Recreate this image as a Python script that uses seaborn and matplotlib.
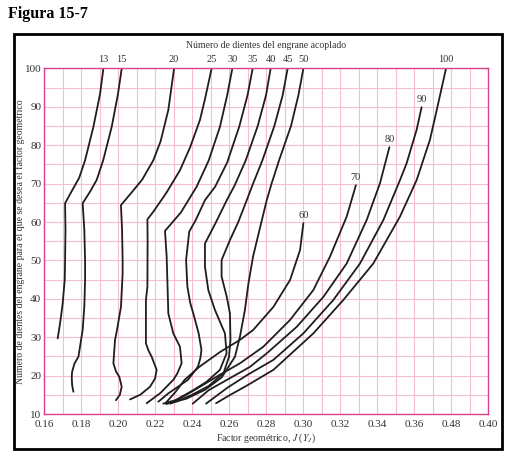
import numpy as np
import pandas as pd
import matplotlib
matplotlib.use('Agg')
import matplotlib.pyplot as plt
from matplotlib.patches import Rectangle
import seaborn as sns

# Mating-gear teeth curves: geometry factor J vs number of teeth
mating_teeth = [13, 15, 20, 25, 30, 35, 40, 45, 50, 60, 70, 80, 90, 100]

j_13 = [0.1921, 0.1903, 0.1867, 0.1822, 0.1790, 0.1755, 0.1714, 0.1716, 0.1714, 0.1712, 0.1701, 0.1688, 0.1674]
n_13 = [100, 93.4, 84.8, 76.1, 71.5, 68.5, 64.9, 58, 50, 45, 38.8, 34, 29.7]

j_15 = [0.2020, 0.2000, 0.1966, 0.1920, 0.1885, 0.1850, 0.1809, 0.1818, 0.1822, 0.1822, 0.1818, 0.1809, 0.1786, 0.1765, 0.1752, 0.1750, 0.1752, 0.1759]
n_15 = [100, 93.4, 84.8, 76.1, 71, 68, 64.9, 57.9, 50, 44.9, 38, 31.9, 24.9, 23.2, 21, 19.7, 17.5, 15.8]

j_20 = [0.2303, 0.2272, 0.2230, 0.2191, 0.2130, 0.2070, 0.2016, 0.2022, 0.2025, 0.2025, 0.2016, 0.1995, 0.1984, 0.1975, 0.1990, 0.2007, 0.2020, 0.2010, 0.1989]
n_20 = [100, 89.2, 81, 76.1, 71, 67.5, 64.4, 57.9, 50, 46.6, 37.9, 32, 29.3, 23.2, 21, 19.7, 17.1, 15, 13.6]

j_25 = [0.2506, 0.2470, 0.2443, 0.2390, 0.2335, 0.2260, 0.2191, 0.2159, 0.2160, 0.2159, 0.2151, 0.2151, 0.2165, 0.2182, 0.2209, 0.2200, 0.2173, 0.2120, 0.2065]
n_25 = [100, 92, 86.6, 79.5, 73.5, 67.5, 62.7, 60.7, 55, 43.2, 39.7, 28.4, 26.5, 24.9, 21.5, 19.2, 17.1, 15, 13.8]

j_30 = [0.2618, 0.2590, 0.2551, 0.2490, 0.2425, 0.2340, 0.2254, 0.2263, 0.2268, 0.2272, 0.2299, 0.2335, 0.2344, 0.2320, 0.2299, 0.2230, 0.2155]
n_30 = [100, 93, 84.8, 76, 69.2, 62.5, 57.7, 51, 43, 36.2, 31, 27.5, 23.2, 20.5, 18.9, 15.5, 12.8]

j_35 = [0.2728, 0.2700, 0.2655, 0.2590, 0.2525, 0.2470, 0.2420, 0.2385, 0.2368, 0.2375, 0.2390, 0.2407, 0.2436, 0.2451, 0.2445, 0.2432, 0.2378, 0.2324, 0.2270, 0.2218]
n_35 = [100, 93, 84.8, 75.5, 69.2, 65.7, 60.5, 57.5, 50.1, 43.2, 39, 36.2, 31, 26.7, 24.5, 22.3, 18.9, 17.1, 15.3, 13.2]

j_40 = [0.2825, 0.2800, 0.2755, 0.2690, 0.2630, 0.2588, 0.2530, 0.2470, 0.2470, 0.2488, 0.2524, 0.2578, 0.2587, 0.2551, 0.2479, 0.2400, 0.2310, 0.2245]
n_40 = [100, 93, 85, 76, 69.5, 65.7, 60, 54.4, 48.4, 42.3, 37.1, 31, 25.8, 21.5, 18.4, 16, 13.6, 12.7]

j_45 = [0.2917, 0.2890, 0.2845, 0.2780, 0.2730, 0.2696, 0.2650, 0.2605, 0.2560, 0.2560, 0.2588, 0.2605, 0.2608, 0.2600, 0.2570, 0.2490, 0.2400, 0.2320, 0.2260]
n_45 = [100, 93, 85, 76, 70, 65.7, 60, 55.3, 50.1, 45.8, 40.5, 36.2, 29.3, 24.9, 20.6, 17.3, 15, 13.3, 12.6]

j_50 = [0.3002, 0.2975, 0.2935, 0.2870, 0.2830, 0.2804, 0.2765, 0.2730, 0.2705, 0.2686, 0.2659, 0.2632, 0.2560, 0.2470, 0.2370, 0.2280]
n_50 = [100, 93, 85, 76, 70, 65.7, 58, 51, 44, 37.1, 30.1, 24.9, 19.5, 16.3, 14, 12.8]

j_60 = [0.3002, 0.2984, 0.2930, 0.2840, 0.2731, 0.2659, 0.2550, 0.2440, 0.2360, 0.2310, 0.2260]
n_60 = [59.7, 52.7, 44.9, 37.9, 31.9, 29.3, 26.1, 22.3, 18.9, 15.7, 13.0]

j_70 = [0.3286, 0.3236, 0.3146, 0.3056, 0.2930, 0.2785, 0.2659, 0.2550, 0.2440, 0.2340, 0.2285]
n_70 = [69.6, 61.4, 51, 42.3, 34.5, 27.5, 23.2, 20.2, 17, 14.2, 12.7]

j_80 = [0.3467, 0.3416, 0.3344, 0.3236, 0.3110, 0.2966, 0.2804, 0.2714, 0.2600, 0.2490, 0.2404]
n_80 = [79.5, 70.1, 60.5, 49.2, 40.5, 32.7, 25.8, 22.3, 19.2, 16.2, 12.7]

j_90 = [0.3641, 0.3614, 0.3560, 0.3524, 0.3434, 0.3308, 0.3164, 0.3002, 0.2840, 0.2700, 0.2590, 0.2476]
n_90 = [89.9, 84, 75.3, 70.9, 60.5, 49.2, 39.7, 31, 24.1, 20.2, 16.8, 12.7]

j_100 = [0.3773, 0.3723, 0.3686, 0.3614, 0.3524, 0.3380, 0.3218, 0.3056, 0.2840, 0.2700, 0.2600, 0.2530]
n_100 = [100, 89.2, 81.4, 70.9, 61.4, 49.2, 39.7, 31, 21.5, 17.5, 14.8, 12.8]

j_curves = [j_13, j_15, j_20, j_25, j_30, j_35, j_40, j_45, j_50, j_60, j_70, j_80, j_90, j_100]
n_curves = [n_13, n_15, n_20, n_25, n_30, n_35, n_40, n_45, n_50, n_60, n_70, n_80, n_90, n_100]

x_ticks = [0.16, 0.18, 0.20, 0.22, 0.24, 0.26, 0.28, 0.30, 0.32, 0.34, 0.36, 0.38, 0.40]
x_tick_labels = ["0.16", "0.18", "0.20", "0.22", "0.24", "0.26", "0.28", "0.30",
                 "0.32", "0.34", "0.36", "0.48", "0.40"]
y_ticks = [10, 20, 30, 40, 50, 60, 70, 80, 90, 100]

sns.set_theme(style="white")
plt.rcParams['font.family'] = ['Liberation Serif', 'DejaVu Serif']
plt.rcParams['mathtext.fontset'] = 'stix'

pink_spine = "#dc3f8c"
pink_grid = "#f5bcd6"

rows = []
for t, js, ns in zip(mating_teeth, j_curves, n_curves):
    for j, n in zip(js, ns):
        rows.append({"teeth": t, "J": j, "N": n})
df = pd.DataFrame(rows)

fig = plt.figure(figsize=(5.16, 4.66), dpi=100)
ax = fig.add_axes([44 / 516, 1 - 414 / 466, 444 / 516, 345.5 / 466])

sns.lineplot(data=df, x="J", y="N", units="teeth", estimator=None, sort=False,
             color="#1e1e1e", linewidth=1.3, ax=ax, legend=False)

ax.set_xlim(0.16, 0.40)
ax.set_ylim(10, 100)
ax.set_xticks(x_ticks)
ax.set_xticklabels(x_tick_labels, fontsize=8)
ax.set_yticks(y_ticks)
ax.set_yticklabels([str(v) for v in y_ticks], fontsize=8)
ax.set_xticks(np.arange(0.16, 0.4001, 0.01), minor=True)
ax.set_yticks(np.arange(10, 100.1, 5), minor=True)
ax.grid(which="both", color=pink_grid, linewidth=0.8)
ax.tick_params(which="both", length=0, colors="#333333")
ax.tick_params(axis="x", pad=4)
ax.tick_params(axis="y", pad=2)
ax.set_xlabel("")
ax.set_ylabel("")
for s in ax.spines.values():
    s.set_color(pink_spine)
    s.set_linewidth(1.0)

# curve labels
for t, js, ns in zip(mating_teeth, j_curves, n_curves):
    if ns[0] >= 100:
        ax.text(js[0], 102.3, str(t), ha="center", va="center", fontsize=7.5,
                color="#333333", clip_on=False)
    else:
        ax.text(js[0], ns[0] + 2.1, str(t), ha="center", va="center", fontsize=7.5,
                color="#333333")

fig.text(8 / 516, 1 - 14 / 466, "Figura 15-7", fontsize=11.5, fontweight="bold",
         ha="left", va="center", color="black")
fig.text(266 / 516, 1 - 45 / 466, "Número de dientes del engrane acoplado",
         fontsize=7, ha="center", va="center", color="#333333")
fig.text(266 / 516, 1 - 438 / 466, r"Factor geométrico, $J$ ($Y_J$)",
         fontsize=7, ha="center", va="center", color="#333333")
fig.text(20 / 516, 1 - 242 / 466,
         "Número de dientes del engrane para el que se desea el factor geométrico",
         fontsize=7, rotation=90, ha="center", va="center", color="#333333")

fig.patches.append(Rectangle((14 / 516, 1 - 449 / 466), 488 / 516, 415 / 466,
                             transform=fig.transFigure, fill=False,
                             edgecolor="black", linewidth=2))

fig.savefig("out.png", dpi=100)
